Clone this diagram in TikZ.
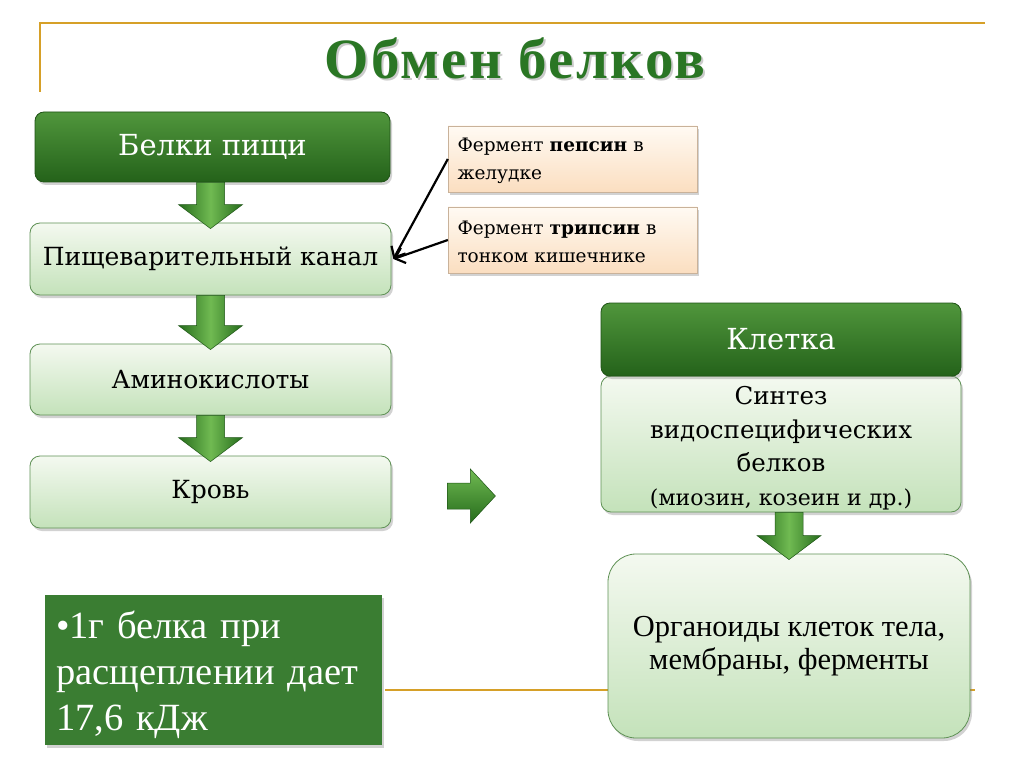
\documentclass[tikz,border=0pt]{standalone}
\usepackage{fontspec}
\setmainfont{DejaVu Serif}
\newfontfamily\timesf{Liberation Serif}
\newfontfamily\titlef[LetterSpace=4.0]{Liberation Serif}
\usetikzlibrary{calc,shadows,arrows.meta}

\definecolor{gold}{RGB}{214,160,40}
\definecolor{dgtop}{RGB}{80,150,60}
\definecolor{dgbot}{RGB}{36,98,26}
\definecolor{lgtop}{RGB}{244,249,240}
\definecolor{lgbot}{RGB}{196,226,186}
\definecolor{lgborder}{RGB}{95,145,85}
\definecolor{pchtop}{RGB}{255,250,243}
\definecolor{pchbot}{RGB}{251,222,192}
\definecolor{gbox}{RGB}{58,125,50}
\definecolor{ttl}{RGB}{42,118,36}
\definecolor{arrdark}{RGB}{38,108,28}
\definecolor{arrlight}{RGB}{112,186,82}

\newcommand\greendown[2]{%
  \shadedraw[arrowshade] let \p1=(#1.south), \p2=(#2.north) in
    (\x2-14pt,\y1) -- (\x2+14pt,\y1) -- (\x2+14pt,\y2+18pt) -- (\x2+32pt,\y2+18pt)
    -- (\x2,\y2-6pt) -- (\x2-32pt,\y2+18pt) -- (\x2-14pt,\y2+18pt) -- cycle;}

\begin{document}
\begin{tikzpicture}[x=1pt,y=-1pt,
  boxshadow/.style={drop shadow={opacity=0.35, shadow xshift=2pt, shadow yshift=-3pt}},
  darkbox/.style={rectangle, rounded corners=9pt, draw=dgbot!85!black, line width=0.8pt,
    top color=dgtop, bottom color=dgbot, text=white, boxshadow,
    font=\fontsize{29}{32}\selectfont, inner sep=0pt},
  lightbox/.style={rectangle, rounded corners=10pt, draw=lgborder, line width=0.8pt,
    top color=lgtop, bottom color=lgbot, text=black, boxshadow, align=center,
    font=\fontsize{25}{30}\selectfont, inner sep=0pt},
  notebox/.style={rectangle, top color=pchtop, bottom color=pchbot, draw=pchbot!80!black,
    line width=0.3pt, boxshadow, inner sep=0pt, minimum width=249pt, minimum height=66pt},
  notetext/.style={text=black, align=left, text width=230pt, inner sep=0pt,
    font=\fontsize{18.5}{28}\selectfont},
  arrowshade/.style={draw=arrdark!80!black, line width=0.5pt, left color=arrdark,
    right color=arrdark, middle color=arrlight},
  goldline/.style={draw=gold, line width=2pt},
  link/.style={line width=2.2pt, -{Straight Barb[length=9pt,width=16pt,line width=2.2pt]}}
]
\useasboundingbox (0,0) rectangle (1024,767);
\fill[white] (0,0) rectangle (1024,767);

% decorative gold lines
\draw[goldline] (40,92) -- (40,23) -- (985,23);
\draw[goldline] (385,690) -- (975,690);

% title
\node[text=black!40, opacity=0.5] at (517,60) {\titlef\bfseries\fontsize{57}{60}\selectfont Обмен белков};
\node[text=ttl] (title) at (515,58) {\titlef\bfseries\fontsize{57}{60}\selectfont Обмен белков};

% left column
\node[darkbox, minimum width=355pt, minimum height=70pt] (food) at (212.5,147) {Белки пищи};
\node[lightbox, minimum width=361pt, minimum height=72pt] (canal) at (210.5,259) {Пищеварительный канал};
\node[lightbox, minimum width=361pt, minimum height=71pt] (amino) at (210.5,379.5) {Аминокислоты};
\node[lightbox, minimum width=361pt, minimum height=72pt] (blood) at (210.5,492) {Кровь};

% enzyme notes
\node[notebox] (pepsin) at (572.5,159) {};
\node[notetext] (pepsintext) at ($(pepsin.center)+(0,2)$) {Фермент \textbf{пепсин} в\\желудке};
\node[notebox] (trypsin) at (572.5,240) {};
\node[notetext] (trypsintext) at ($(trypsin.center)+(0,2)$) {Фермент \textbf{трипсин} в\\тонком кишечнике};

% right column
\node[lightbox, minimum width=360pt, minimum height=136pt] (synth) at (781,444) {};
\node[align=center, inner sep=0pt, font=\fontsize{24.5}{33.5}\selectfont] (synthtext)
  at ($(synth.center)+(0,4)$)
  {Синтез\\видоспецифических\\белков\\{\fontsize{22}{33.5}\selectfont(миозин, козеин и др.)}};
\node[darkbox, minimum width=360pt, minimum height=73pt] (cell) at (781,339.5) {Клетка};
\node[lightbox, rounded corners=28pt, minimum width=362pt, minimum height=184pt,
  font=\timesf\fontsize{30.5}{33}\selectfont] (organ) at (789,646)
  {Органоиды клеток тела,\\мембраны, ферменты};

% energy box
\node[rectangle, fill=gbox, boxshadow, inner sep=0pt,
  minimum width=337pt, minimum height=150pt] (energy) at (213.5,670) {};
\node[text=white, align=left, text width=320pt, inner sep=0pt, anchor=north west,
  font=\timesf\fontsize{38.5}{46}\selectfont] (energytext) at ($(energy.north west)+(11,16)$)
  {•1г белка при\\расщеплении дает\\17,6 кДж};

% block arrows
\greendown{food}{canal}
\greendown{canal}{amino}
\greendown{amino}{blood}
\greendown{synth}{organ}
\coordinate (rs) at ($(blood.east)+(56,-9)$);
\shadedraw[draw=arrdark!80!black, line width=0.5pt, top color=arrlight, bottom color=arrdark]
  (rs) -- ++(23,0) -- ++(0,-14) -- ++(25,27) -- ++(-25,27) -- ++(0,-14) -- ++(-23,0) -- cycle;

% enzyme links
\draw[link] (pepsin.west) -- ($(canal.east)+(2,0)$);
\draw[link] (trypsin.west) -- ($(canal.east)+(2,0)$);
\end{tikzpicture}
\end{document}
